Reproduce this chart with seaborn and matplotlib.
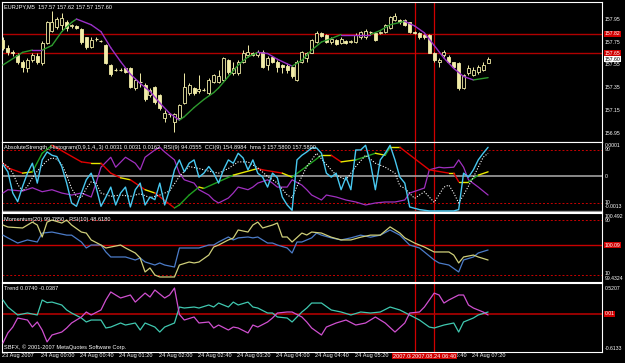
import matplotlib
matplotlib.use('Agg')
import matplotlib.pyplot as plt
import matplotlib.transforms as mtrans
import seaborn as sns
import pandas as pd

sns.set_theme(style='dark')
plt.rcParams['font.family'] = ['Liberation Sans', 'DejaVu Sans']

# ---------------- data ----------------
opens = [157.77,157.70,157.66,157.64,157.58,157.52,157.59,157.63,157.57,157.74,
         157.85,157.88,157.90,157.92,157.89,157.89,157.86,157.79,157.71,157.78,
         157.76,157.72,157.55,157.51,157.51,157.52,157.52,157.35,157.40,157.38,
         157.29,157.36,157.29,157.09,157.12,157.05,157.09,157.22,157.31,157.35,
         157.32,157.33,157.31,157.40,157.40,157.42,157.59,157.48,157.48,157.58,
         157.64,157.65,157.64,157.66,157.55,157.62,157.58,157.55,157.54,157.53,
         157.42,157.58,157.61,157.65,157.75,157.83,157.81,157.75,157.77,157.74,
         157.76,157.75,157.75,157.79,157.79,157.84,157.83,157.83,157.84,157.87,
         157.94,157.94,157.94,157.92,157.84,157.83,157.81,157.81,157.65,157.58,
         157.64,157.62,157.58,157.57,157.35,157.48,157.46,157.49,157.51,157.57]
closes = [157.70,157.66,157.65,157.58,157.53,157.59,157.64,157.58,157.74,157.92,
          157.92,157.95,157.96,157.87,157.90,157.87,157.75,157.71,157.77,157.78,
          157.76,157.57,157.47,157.51,157.51,157.49,157.36,157.42,157.40,157.25,
          157.33,157.23,157.18,157.13,157.12,157.12,157.20,157.36,157.38,157.31,
          157.34,157.33,157.42,157.46,157.45,157.61,157.49,157.52,157.58,157.65,
          157.66,157.64,157.66,157.53,157.61,157.58,157.53,157.53,157.51,157.45,
          157.58,157.66,157.65,157.77,157.83,157.80,157.75,157.78,157.73,157.78,
          157.74,157.76,157.81,157.84,157.85,157.84,157.77,157.84,157.90,157.97,
          157.98,157.92,157.90,157.84,157.83,157.79,157.79,157.65,157.59,157.59,
          157.66,157.58,157.53,157.35,157.46,157.52,157.51,157.53,157.55,157.60]
highs = [157.79,157.72,157.68,157.65,157.59,157.61,157.65,157.65,157.76,157.93,
         158.02,157.97,158.00,157.94,157.91,157.90,157.87,157.79,157.79,157.79,
         157.77,157.73,157.56,157.52,157.52,157.53,157.53,157.44,157.48,157.39,
         157.35,157.37,157.30,157.16,157.13,157.13,157.21,157.48,157.39,157.36,
         157.46,157.35,157.44,157.47,157.51,157.62,157.60,157.58,157.59,157.68,
         157.72,157.66,157.68,157.68,157.63,157.63,157.59,157.56,157.56,157.54,
         157.59,157.67,157.66,157.78,157.85,157.84,157.82,157.79,157.78,157.79,
         157.77,157.77,157.83,157.85,157.86,157.85,157.84,157.85,157.91,157.98,
         158.00,157.95,157.95,157.92,157.85,157.84,157.82,157.82,157.66,157.61,
         157.68,157.64,157.58,157.58,157.47,157.55,157.53,157.55,157.58,157.62]
lows = [157.68,157.64,157.63,157.56,157.49,157.49,157.58,157.56,157.55,157.73,
        157.84,157.86,157.85,157.85,157.87,157.86,157.73,157.69,157.70,157.76,
        157.75,157.56,157.45,157.50,157.50,157.48,157.35,157.33,157.36,157.24,
        157.27,157.21,157.16,157.05,157.10,156.97,157.07,157.21,157.29,157.29,
        157.31,157.32,157.29,157.39,157.39,157.41,157.47,157.46,157.46,157.57,
        157.62,157.63,157.62,157.52,157.51,157.57,157.49,157.48,157.48,157.44,
        157.41,157.57,157.58,157.65,157.74,157.79,157.74,157.73,157.72,157.73,
        157.73,157.74,157.74,157.78,157.78,157.82,157.76,157.82,157.83,157.86,
        157.93,157.91,157.89,157.83,157.82,157.78,157.78,157.65,157.58,157.53,
        157.62,157.57,157.52,157.33,157.34,157.46,157.45,157.47,157.50,157.57]

ma_bar = [0,4,6,8,10,12,14,15,18,20,22,24,26,28,30,32,34,36,37,39,41,43,44,46,48,
          50,52,54,56,58,59,61,63,65,67,69,73,75,77,79,81,82,84,86,88,90,92,94,96,99]
ma_val = [157.55,157.66,157.68,157.68,157.72,157.84,157.92,157.95,157.90,157.84,
          157.70,157.58,157.47,157.39,157.32,157.22,157.13,157.07,157.10,157.18,
          157.25,157.31,157.35,157.45,157.55,157.62,157.66,157.65,157.60,157.56,
          157.54,157.59,157.68,157.75,157.78,157.815,157.815,157.815,157.85,157.90,
          157.92,157.93,157.89,157.83,157.72,157.61,157.52,157.45,157.42,157.44]

price_levels = [157.82, 157.65]
price_ticks = [157.95, 157.75, 157.55, 157.35, 157.15, 156.95]
marker_bars = [84, 88]
marker_labels = ['2007.08.24 06:20', '2007.08.24 06:40']

time_bars = [0, 8, 16, 24, 32, 40, 48, 56, 64, 72, 88, 96]
time_labels = ['23 Aug 2007', '24 Aug 00:00', '24 Aug 00:40', '24 Aug 01:20',
               '24 Aug 02:00', '24 Aug 02:40', '24 Aug 03:20', '24 Aug 04:00',
               '24 Aug 04:40', '24 Aug 05:20', '24 Aug 06:40', '24 Aug 07:20']

# AbsoluteStrength panel
cyan_val = [68,57,25,12,35,55,70,40,75,87, 82,80,65,40,10,5,25,45,55,34,
            5,19,34,7,25,34,4,30,40,7, 19,15,40,7,30,60,75,57,70,75,
            49,55,65,55,40,60,75,70,85,78, 60,75,55,49,34,55,48,19,7,-1,
            75,82,87,93,93,85,55,49,55,30, 49,30,90,90,97,70,30,75,85,97,
            75,49,40,4,2,0,-1,-2,-2,-2, -2,-2,-2,0,55,49,60,75,85,94]
wd_bar = [0,1,2,3,4,5,6,7,8,9,10,11,12,13,14,15,16,17,18,19,20,22,24,26,28,30,32,34,
          36,38,40,42,44,46,48,50,52,54,56,58,59,60,62,64,66,68,70,72,74,76,78,80,
          81,82,84,86,88,90,91,92,93,94,96,98,99]
wd_val = [70,65,55,38,28,35,48,58,66,74,78,76,68,52,32,20,18,32,42,40,25,
          20,22,20,24,18,22,28,50,65,62,58,55,62,72,72,63,50,40,22,
          18,35,65,85,68,52,45,65,82,70,64,55,36,32,17,27,11,34,37,25,10,22,49,79,85]
sig_bar = [0,1,4,6,8,10,11,16,18,20,22,24,26,29,31,35,36,38,40,41,47,52,53,57,59,
           65,67,69,72,76,78,79,81,87,91,92,93,95,97,99]
sig_val = [70,63,55,57,85,97,93,72,70,70,55,48,45,30,25,2.5,7,22,34,32,52,62,60,55,49,
           82,82,72,75,85,82,94,94,60,55,55,42,42,52,57]
sig_state = ['dn','dn','flat','up','up','dn','dn','dn','flat','dn','dn','flat','dn',
             'flat','dn','up','up','up','flat','up','flat','dn','dn','flat','up',
             'flat','dn','flat','up','flat','up','flat','dn','dn','flat','dn','flat',
             'up','flat']
pur_bar = [0,1,4,6,8,10,12,14,16,18,19,20,22,23,25,27,28,29,31,32,33,35,36,37,39,
           40,42,43,44,46,47,48,50,51,52,54,55,56,58,59,61,62,63,65,66,68,70,72,74,
           76,78,80,82,83,85,86,87,89,90,92,93,94,95,97,99]
pur_val = [25,30,28,33,27,30,25,22,25,19,40,64,79,64,79,70,60,79,90,94,87,75,55,45,40,
           30,22,14.5,10,17.5,25,34,30,34,40,45,40,34,34,45,37,30,22,14.5,22,19,14.5,
           11.5,7,10,11.5,11.5,14.5,25,30,32.6,60,64,63,64,75,64,45,34,22]

# Momentum / RSI panel
mom_bar = [0,1,4,6,7,8,9,10,12,13,14,16,17,18,20,21,22,24,25,27,28,29,30,31,32,34,35,
           36,38,39,40,42,43,44,46,47,48,50,51,52,53,55,56,57,58,59,61,62,63,65,67,69,
           71,73,75,77,79,81,82,84,85,86,88,91,92,93,94,96,97,99]
mom_val = [82.7,79.8,78.4,87,82.7,65.3,87,90,85.6,90,82.7,72.5,71,61,53.6,49.3,50.7,
           53.6,49.3,42,34.7,14.4,20.2,10,7.1,7.1,7.1,24.5,28.9,27.5,28.9,39,50.7,53.6,
           61,63.8,75.5,72.5,82.7,87,78.4,82.7,85.6,65.3,65.3,58,71,68.2,72.5,71,65,61,
           61,65,68,68,80,71,64,56.5,53.6,50.7,43.5,43.5,39,27.5,36.2,39,36.2,31.8]
rsi_bar = [0,1,3,5,7,8,10,11,13,14,16,17,18,20,21,22,24,25,27,28,29,31,32,33,35,36,37,
           40,42,43,44,46,47,48,50,51,52,54,55,56,58,59,60,61,63,64,65,67,69,71,73,75,
           77,79,81,83,85,86,88,89,91,93,94,96,97,99]
rsi_val = [68,64,56.5,61,58,71,72.5,71,68,68,58,49.3,53.6,53.6,43.5,36.2,36.2,36.2,31.8,
           34.7,29,24.5,27.5,24.5,21.6,49.3,49.3,49.3,53.6,53.6,58,65.3,61,64,65.3,64,
           65.3,56.5,56.5,53.6,49.3,42,58,58,64,71,68,64,61,64,68,65,68,75.5,68,53.6,
           49.3,43.5,31.8,27.5,24.5,14.4,31.8,36.2,42,46.4]

# Trend panel
tl_bar = [0,1,3,5,7,8,9,10,12,13,14,16,17,18,20,21,22,24,25,27,28,29,31,32,33,35,36,
          37,39,40,42,43,44,46,47,48,50,51,52,54,55,56,58,59,61,62,63,65,67,69,71,73,
          75,77,79,81,83,85,87,88,90,92,93,94,96,97,99]
tl_val = [0.257,0.132,-0.01,0.025,-0.01,0.257,0.21,0.22,0.168,0.079,0.025,-0.064,
          -0.135,-0.10,-0.10,-0.242,-0.225,-0.153,-0.189,-0.153,-0.278,-0.153,-0.225,
          -0.314,-0.225,-0.153,0.132,0.114,0.132,0.114,0.168,0.132,0.203,0.132,0.22,
          0.168,0.22,0.132,0.114,0.025,0.025,-0.046,-0.064,-0.135,0.043,0.114,0.203,
          0.203,0.079,0.043,-0.01,0.043,0.025,0.043,0.132,0.079,-0.01,-0.10,-0.225,
          -0.242,-0.189,-0.153,-0.314,-0.135,-0.064,-0.01,0.043]
mg_bar = [0,1,2,3,5,6,7,8,9,10,12,13,14,16,17,18,20,21,22,23,24,26,27,29,30,31,33,34,
          35,36,37,39,40,42,43,44,46,47,48,50,51,52,54,55,56,58,59,61,62,63,65,66,68,
          70,72,74,76,78,80,82,83,85,86,88,89,90,91,93,94,95,96,98,99]
mg_val = [-0.51,-0.33,-0.225,-0.064,-0.10,-0.225,-0.135,-0.278,-0.49,-0.367,-0.314,
          -0.242,-0.153,-0.046,0.043,-0.01,0.079,0.257,0.40,0.346,0.293,0.346,0.22,
          0.38,0.31,0.435,0.293,0.346,0.47,0.0,-0.10,-0.046,-0.153,-0.135,-0.242,
          -0.189,-0.278,-0.225,-0.242,-0.33,-0.189,-0.225,-0.135,-0.064,0.025,0.043,
          0.043,-0.046,-0.135,-0.242,-0.367,-0.225,-0.153,-0.10,-0.189,-0.153,-0.046,
          -0.153,-0.314,-0.153,0.025,0.043,0.132,0.38,0.346,0.203,0.257,0.346,0.346,
          0.168,0.114,0.043,-0.01]

# ---------------- style ----------------
BG = 'black'
CANDLE = '#F2EDA8'
RED = '#C80000'
FS = 4.1
FSR = 3.7
W, H = 625, 363

fig = plt.figure(figsize=(6.25, 3.63), dpi=100, facecolor=BG)

def add_ax(top, bottom):
    ax = fig.add_axes([2 / W, 1 - bottom / H, 600 / W, (bottom - top) / H])
    ax.set_facecolor(BG)
    ax.set_xlim(-0.2, 122.25)
    ax.set_xticks([]); ax.set_yticks([])
    ax.grid(False)
    for s in ax.spines.values():
        s.set_color('white'); s.set_linewidth(0.8)
    return ax

ax0 = add_ax(2, 142)
ax1 = add_ax(142, 212)
ax2 = add_ax(213, 282)
ax3 = add_ax(283, 352)
ax0.set_ylim(156.88, 158.098)
ax1.set_ylim(-3.6, 102)
ax2.set_ylim(-0.2, 100.2)
ax3.set_ylim(-0.67, 0.56)

def rlabel(ax, y, s, bg=None, fg='white'):
    tr = mtrans.blended_transform_factory(ax.transAxes, ax.transData)
    kw = {}
    if bg is not None:
        kw['bbox'] = dict(facecolor=bg, edgecolor='none', pad=0.4)
    ax.text(1.004, y, s, transform=tr, color=fg, fontsize=FSR, ha='left',
            va='center', clip_on=False, **kw)

# ---------------- main price panel ----------------
for lv in price_levels:
    ax0.axhline(lv, color='#B00000', lw=1.0, zorder=1)
for b in marker_bars:
    for ax in (ax0, ax1, ax2, ax3):
        ax.axvline(b, color='#D00000', lw=0.9, zorder=1)

for i in range(len(opens)):
    o, c, h, l = opens[i], closes[i], highs[i], lows[i]
    ax0.vlines(i, l, h, color=CANDLE, lw=0.7, zorder=3)
    if c > o:
        ax0.bar(i, c - o, bottom=o, width=0.62, facecolor='black',
                edgecolor=CANDLE, linewidth=0.6, zorder=4)
    elif c < o:
        ax0.bar(i, o - c, bottom=c, width=0.62, facecolor=CANDLE,
                edgecolor=CANDLE, linewidth=0.6, zorder=4)
    else:
        ax0.hlines(o, i - 0.31, i + 0.31, color=CANDLE, lw=0.8, zorder=4)

for k in range(len(ma_bar) - 1):
    col = '#2E9A2E' if ma_val[k + 1] > ma_val[k] else '#9A30C8'
    ax0.plot(ma_bar[k:k + 2], ma_val[k:k + 2], color=col, lw=1.0,
             solid_capstyle='round', zorder=5)

for p in price_ticks:
    rlabel(ax0, p, f'{p:.2f}')
rlabel(ax0, price_levels[0], '157.82', bg='#D00000')
rlabel(ax0, price_levels[1], '157.65', bg='#D00000')
rlabel(ax0, closes[-1], f'{closes[-1]:.2f}', bg='white', fg='black')

# ---------------- AbsoluteStrength panel ----------------
ax1.axhline(50, color='#A0A0A0', lw=1.2, zorder=1)
ax1.axhline(-2.6, color='#909090', lw=1.0, zorder=1)
for lv in (90, 10):
    ax1.axhline(lv, color=RED, lw=0.7, ls=(0, (2, 2)), zorder=1)

sns.lineplot(x=pur_bar, y=pur_val, ax=ax1, color='#A030C0', lw=0.9,
             sort=False, estimator=None, legend=False, zorder=3)
state_col = {'dn': '#E00000', 'up': '#20A020', 'flat': '#E8E800'}
for k in range(len(sig_bar) - 1):
    ax1.plot(sig_bar[k:k + 2], sig_val[k:k + 2], color=state_col[sig_state[k]],
             lw=1.0, solid_capstyle='round', zorder=4)
sns.lineplot(x=wd_bar, y=wd_val, ax=ax1, color='white', lw=0.8, ls=(0, (1, 1.5)),
             sort=False, estimator=None, legend=False, zorder=5)
sns.lineplot(x=list(range(len(cyan_val))), y=cyan_val, ax=ax1, color='#48C8F0',
             lw=1.0, sort=False, estimator=None, legend=False, zorder=6)

rlabel(ax1, 96, '0.0001')
rlabel(ax1, 90, '90')
rlabel(ax1, 50, '0')
rlabel(ax1, 11, '10')
rlabel(ax1, 4, '-0.0013')

# ---------------- Momentum / RSI panel ----------------
ax2.axhline(53.6, color=RED, lw=1.0, zorder=1)
for lv in (90, 10):
    ax2.axhline(lv, color=RED, lw=0.7, ls=(0, (2, 2)), zorder=1)
sns.lineplot(x=rsi_bar, y=rsi_val, ax=ax2, color='#4C7CC8', lw=0.9,
             sort=False, estimator=None, legend=False, zorder=3)
sns.lineplot(x=mom_bar, y=mom_val, ax=ax2, color='#CFCF7A', lw=0.9,
             sort=False, estimator=None, legend=False, zorder=4)
rlabel(ax2, 95, '100.492')
rlabel(ax2, 89, '90')
rlabel(ax2, 53.6, '100.09', bg='#D00000')
rlabel(ax2, 12, '10')
rlabel(ax2, 5, '99.4324')

# ---------------- Trend panel ----------------
ax3.axhline(0.01, color='#B00000', lw=1.2, zorder=1)
sns.lineplot(x=tl_bar, y=tl_val, ax=ax3, color='#40C8B0', lw=0.9,
             sort=False, estimator=None, legend=False, zorder=3)
sns.lineplot(x=mg_bar, y=mg_val, ax=ax3, color='#D050D0', lw=0.9,
             sort=False, estimator=None, legend=False, zorder=4)
rlabel(ax3, 0.47, '0.5207')
rlabel(ax3, 0.01, '0.01', bg='#D00000')
rlabel(ax3, -0.60, '-0.6133')

# ---------------- texts ----------------
def ftext(x, y, s, **kw):
    fig.text(x / W, 1 - y / H, s, color='white', fontsize=FS, ha='left', va='center', **kw)

ftext(4, 7, 'EURJPY,M5  157.57 157.62 157.57 157.60')
ftext(4, 147, 'AbsoluteStrength_Histogram(0,9,1,4,,3) 0.0031 0.0031 0.0162  RSI(9) 94.0555  '
              'CCI(9) 154.8984  hma 3 157.5800 157.5800')
ftext(4, 219, 'Momentum(20) 99.7850 , RSI(10) 48.6180')
ftext(4, 289, 'Trend 0.0740 -0.0387')
ftext(4, 347, 'SBFX, \u00a9 2001-2007 MetaQuotes Software Corp.')

trx = mtrans.blended_transform_factory(ax3.transData, fig.transFigure)
for b, s in zip(time_bars, time_labels):
    ax3.text(b - 0.25, 1 - 356 / H, s, transform=trx, color='white', fontsize=FS,
             ha='left', va='center', clip_on=False)
for b, s in zip(marker_bars, marker_labels):
    fig.text((2 + (b + 0.2) * 600 / 122.45) / W, 1 - 356 / H, s, color='white',
             fontsize=FS, ha='center', va='center',
             bbox=dict(facecolor='#D00000', edgecolor='none', pad=0.6))

fig.savefig('out.png', dpi=100, facecolor=BG)
